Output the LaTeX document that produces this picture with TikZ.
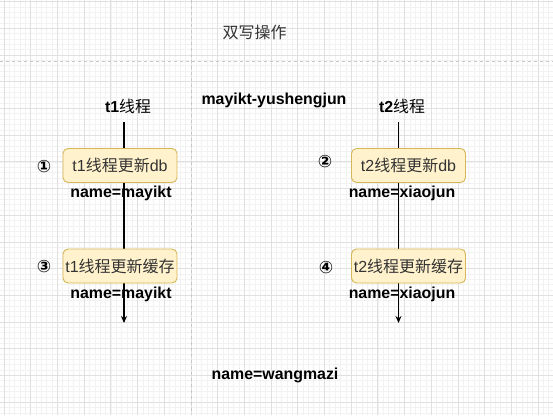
\documentclass[tikz,border=0pt]{standalone}
\usepackage{fontspec}
\setmainfont{Liberation Sans}
\newfontfamily\cjk{Noto Sans CJK SC}
\newfontfamily\dejavu{DejaVu Sans}
\usetikzlibrary{arrows.meta}
\definecolor{gridmaj}{HTML}{E0E0E0}
\definecolor{gridmin}{HTML}{F2F2F2}
\definecolor{dashc}{HTML}{C8C8C8}
\definecolor{boxfill}{HTML}{FFF2CC}
\definecolor{boxdraw}{HTML}{D6B656}
\definecolor{txt}{HTML}{333333}
\tikzset{
  minorline/.style={gridmin, line width=0.5pt},
  majorline/.style={gridmaj, line width=0.8pt},
  sepline/.style={dashc, dashed, dash pattern=on 3pt off 3pt, line width=0.7pt},
  stepbox/.style={draw=boxdraw, fill=boxfill, rounded corners=5pt, line width=0.9pt,
    minimum width=114pt, minimum height=34pt, inner sep=0pt, text=txt,
    font=\fontsize{16}{19}\selectfont},
  boldlabel/.style={font=\fontsize{15.9}{19}\selectfont\bfseries, text=black, inner sep=0pt},
  numlabel/.style={font=\dejavu\bfseries\fontsize{17}{20}\selectfont, text=black, inner sep=0pt},
  flow/.style={line width=1.1pt, -{Stealth[length=7pt,width=6pt]}},
}
\begin{document}
\begin{tikzpicture}[x=1pt,y=-1pt]
\useasboundingbox (0,0) rectangle (553,415);
\fill[white] (0,0) rectangle (553,415);
% grid
\foreach \i in {-1,...,104} {
  \draw[minorline] ({4+5.34*\i},0) -- ({4+5.34*\i},415);
}
\foreach \i in {-1,...,78} {
  \draw[minorline] (0,{1.6+5.34*\i}) -- (553,{1.6+5.34*\i});
}
\foreach \i in {0,...,20} {
  \draw[majorline] ({4+26.7*\i},0) -- ({4+26.7*\i},415);
}
\foreach \i in {0,...,15} {
  \draw[majorline] (0,{1.6+26.7*\i}) -- (553,{1.6+26.7*\i});
}
% separators
\draw[sepline] (0,61.5) -- (553,61.5);
\draw[sepline] (191.5,0) -- (191.5,415);

% texts
\node[text=txt, inner sep=0pt, font=\cjk\fontsize{16}{19}\selectfont] (title) at (254.5,32) {双写操作};
\node[boldlabel] (user) at (274,100) {mayikt-yushengjun};
\node[boldlabel] (t1lab) at (128,106) {t1{\cjk\mdseries 线程}};
\node[boldlabel] (t2lab) at (402,106) {t2{\cjk\mdseries 线程}};

% flow lines
\coordinate (t1top) at (124,122);
\coordinate (t1end) at (124,323);
\coordinate (t2top) at (398.5,122);
\coordinate (t2end) at (398.5,323);
\draw[flow] (t1top) -- (t1end);
\draw[flow] (t2top) -- (t2end);

% boxes
\node[stepbox] (b1) at (120,165.5) {t1{\cjk 线程更新}db};
\node[stepbox] (b3) at (120,266) {t1{\cjk 线程更新缓存}};
\node[stepbox] (b2) at (408.5,165.5) {t2{\cjk 线程更新}db};
\node[stepbox] (b4) at (408.5,266) {t2{\cjk 线程更新缓存}};

\node[boldlabel] (n1) at (121,193) {name=mayikt};
\node[boldlabel] (n3) at (121,294) {name=mayikt};
\node[boldlabel] (n2) at (402,193) {name=xiaojun};
\node[boldlabel] (n4) at (402,294) {name=xiaojun};

\node[numlabel] (c1) at (44,167) {①};
\node[numlabel] (c3) at (44,267) {③};
\node[numlabel] (c2) at (325,162) {②};
\node[numlabel] (c4) at (326,268) {④};

\node[boldlabel] (wang) at (275,375) {name=wangmazi};
\end{tikzpicture}
\end{document}
